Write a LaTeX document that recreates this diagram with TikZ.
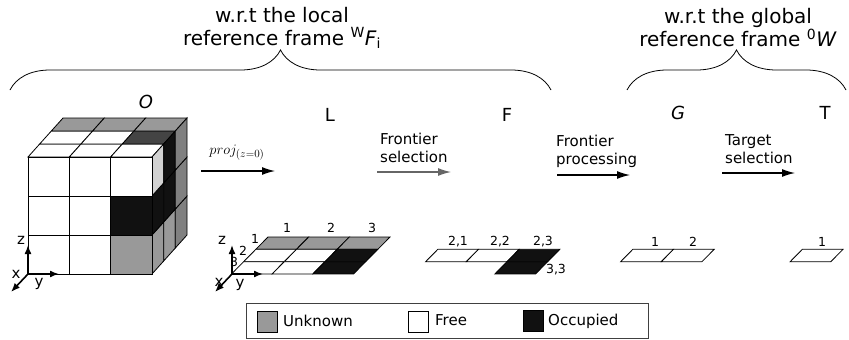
\documentclass[tikz,border=0pt]{standalone}
\usepackage{fontspec}
\setmainfont{DejaVu Sans}
\usetikzlibrary{arrows.meta,decorations.pathreplacing}
\definecolor{unknown}{HTML}{999999}
\definecolor{free}{HTML}{FFFFFF}
\definecolor{occupied}{HTML}{111111}
\definecolor{topdark}{HTML}{444444}
\definecolor{sidegray}{HTML}{808080}
\definecolor{sidelight}{HTML}{D2D2D2}
\definecolor{arrgray}{HTML}{666666}

\begin{document}
\begin{tikzpicture}[x=1pt,y=-1pt,
  cell/.style={draw=black,line width=0.8pt},
  num/.style={font=\fontsize{12.5}{14}\selectfont,inner sep=0pt},
  txt/.style={font=\fontsize{15}{18}\selectfont,align=left,anchor=west,inner sep=0pt},
  axl/.style={font=\fontsize{15}{18}\selectfont,inner sep=0pt},
  big/.style={font=\fontsize{18}{20}\selectfont,inner sep=0pt},
  frame/.style={font=\fontsize{20}{23}\selectfont,align=center,inner sep=0pt},
  ax/.style={draw,line width=1.6pt,-{Latex[length=9pt,width=7pt]}},
  flow/.style={draw,line width=1.2pt,-{Latex[length=13pt,width=8pt]}},
  brc/.style={draw,line width=0.8pt,decorate,decoration={brace,amplitude=40pt}},
  swatch/.style={draw,line width=0.8pt,minimum width=20pt,minimum height=21pt,inner sep=0pt}]
\useasboundingbox (0,0) rectangle (849,340);

\foreach \i/\k/\c in {0/0/free,1/0/free,2/0/free,0/1/free,1/1/free,2/1/topdark,0/2/unknown,1/2/unknown,2/2/unknown}
  \path[cell,fill=\c] ({28+41.33*\i+11.67*\k},{157-13*\k}) -- ++(41.33,0) -- ++(11.67,-13) -- ++(-41.33,0) -- cycle;
\foreach \k/\j/\c in {0/0/unknown,1/0/unknown,2/0/sidegray,0/1/occupied,1/1/occupied,2/1/sidegray,0/2/sidelight,1/2/occupied,2/2/sidegray}
  \path[cell,fill=\c] ({152+11.67*\k},{274-39*\j-13*\k}) -- ++(11.67,-13) -- ++(0,-39) -- ++(-11.67,13) -- cycle;
\foreach \i/\j/\c in {0/0/free,1/0/free,2/0/unknown,0/1/free,1/1/free,2/1/occupied,0/2/free,1/2/free,2/2/free}
  \path[cell,fill=\c] ({28+41.33*\i},{274-39*\j}) rectangle ++(41.33,-39);

\foreach \s/\k/\i/\c in {0/0/0/unknown,0/0/1/unknown,0/0/2/unknown,0/1/0/free,0/1/1/free,0/1/2/occupied,0/2/0/free,0/2/1/free,0/2/2/occupied,
    182/1/0/free,182/1/1/free,182/1/2/occupied,182/2/2/occupied,377/1/0/free,377/1/1/free,546.5/1/0/free}
  \path[cell,fill=\c] ({268+\s-12.17*\k+40.67*\i},{237+12.33*\k}) -- ++(40.67,0) -- ++(-12.17,12.33) -- ++(-40.67,0) -- cycle;

\node[big] (O) at (146,102) {\textit{O}};
\node[big] (L) at (330,115) {L};
\node[big] (F) at (507,115) {F};
\node[big] (G) at (678,113) {\textit{G}};
\node[big] (T) at (825,113) {T};

\node[frame] (locf) at (282,28) {w.r.t the local\\reference frame \textsuperscript{W}\textit{F}\textsubscript{i}};
\node[frame] (glof) at (738,28) {w.r.t the global\\reference frame \textsuperscript{0}\textit{W}};
\coordinate (b1s) at (10,90);
\coordinate (b1e) at (551,90);
\coordinate (b2s) at (627,90);
\coordinate (b2e) at (846,90);
\path[brc] (b1s) -- (b1e);
\path[brc] (b2s) -- (b2e);

\node[num] (lc1) at (287,228) {1};
\node[num] (lc2) at (331,228) {2};
\node[num] (lc3) at (372,228) {3};
\node[num] (lr1) at (255,239) {1};
\node[num] (lr2) at (243,251) {2};
\node[num] (lr3) at (234,262) {3};
\node[num] (f21) at (458,242) {2,1};
\node[num] (f22) at (500,242) {2,2};
\node[num] (f23) at (543,242) {2,3};
\node[num] (f33) at (556,270) {3,3};
\node[num] (g1) at (655,242) {1};
\node[num] (g2) at (693,242) {2};
\node[num] (t1) at (822,242) {1};

\coordinate (co) at (28,274);
\coordinate (cz) at (28,245);
\coordinate (cy) at (59,274);
\coordinate (cx) at (11,292);
\path[ax] (co) -- (cz);
\path[ax] (co) -- (cy);
\path[ax] (co) -- (cx);
\node[axl] (czl) at (21,240) {z};
\node[axl] (cxl) at (16,274) {x};
\node[axl] (cyl) at (39,284) {y};
\coordinate (lo) at (232,274);
\coordinate (lz) at (232,245);
\coordinate (ly) at (263,274);
\coordinate (lx) at (215,292);
\path[ax] (lo) -- (lz);
\path[ax] (lo) -- (ly);
\path[ax] (lo) -- (lx);
\node[axl] (lzl) at (222,240) {z};
\node[axl] (lxl) at (219,282) {x};
\node[axl] (lyl) at (240,285) {y};

\coordinate (a1s) at (201,171);
\coordinate (a1e) at (275,171);
\coordinate (a2s) at (377,172);
\coordinate (a2e) at (451,172);
\coordinate (a3s) at (557,175);
\coordinate (a3e) at (630,175);
\coordinate (a4s) at (722,173);
\coordinate (a4e) at (795,173);
\path[flow] (a1s) -- (a1e);
\path[flow,arrgray] (a2s) -- (a2e);
\path[flow] (a3s) -- (a3e);
\path[flow] (a4s) -- (a4e);
\node[font=\fontsize{15}{18}\selectfont,inner sep=0pt] (proj) at (237,153) {$proj_{(z=0)}$};
\node[txt] (fsel) at (380,148) {Frontier\\selection};
\node[txt] (fpro) at (556,151) {Frontier\\processing};
\node[txt] (tsel) at (725,149) {Target\\selection};

\node[draw=black!75,line width=0.8pt,minimum width=402pt,minimum height=35pt,inner sep=0pt] (legend) at (447,320.5) {};
\node[swatch,fill=unknown] (kunk) at (267,321.5) {};
\node[swatch,fill=free] (kfree) at (418.5,321.5) {};
\node[swatch,fill=occupied] (kocc) at (533,320.5) {};
\node[txt] (tunk) at (283,321) {Unknown};
\node[txt] (tfree) at (435,320) {Free};
\node[txt] (tocc) at (548,321) {Occupied};
\end{tikzpicture}
\end{document}
